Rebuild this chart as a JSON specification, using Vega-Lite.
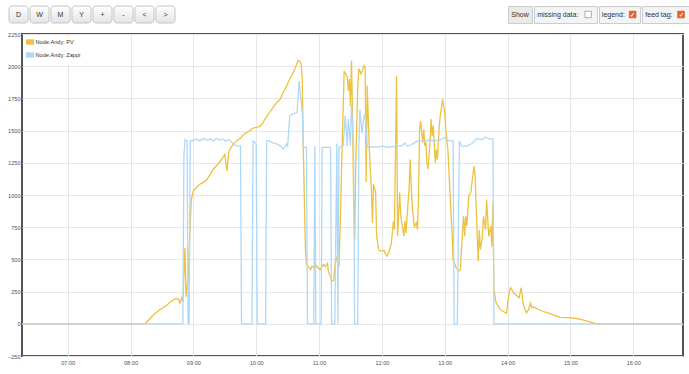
{
  "$schema": "https://vega.github.io/schema/vega-lite/v6.json",
  "padding": {"left": 6, "top": 5, "right": 0, "bottom": 0},
  "background": "white",
  "config": {
    "font": "Liberation Sans"
  },
  "columns": 1,
  "align": "none",
  "spacing": 7,
  "resolve": {"scale": {"color": "independent"}, "legend": {"color": "independent"}},
  "concat": [
    {
      "spacing": 331,
      "hconcat": [
        {
          "width": 166, "height": 17,
          "view": {"stroke": null},
          "data": {"values": [{"b": "D"}, {"b": "W"}, {"b": "M"}, {"b": "Y"}, {"b": "+"}, {"b": "-"}, {"b": "<"}, {"b": ">"}]},
          "encoding": {"x": {"field": "b", "type": "nominal", "sort": null, "axis": null, "scale": {"paddingInner": 0.09, "paddingOuter": 0}}},
          "layer": [
            {"mark": {"type": "rect", "cornerRadius": 3, "stroke": "#c4c4c4", "strokeWidth": 1,
              "fill": {"gradient": "linear", "x1": 0, "y1": 0, "x2": 0, "y2": 1, "stops": [{"offset": 0, "color": "#ffffff"}, {"offset": 1, "color": "#e4e4e4"}]}}},
            {"mark": {"type": "text", "fontSize": 7, "color": "#333333"}, "encoding": {"text": {"field": "b"}}}
          ]
        },
        {
          "spacing": 0,
          "hconcat": [
            {
              "width": 24, "height": 17,
              "view": {"fill": "#eaeaea", "stroke": "#cccccc"},
              "data": {"values": [{"label": "Show"}]},
              "mark": {"type": "text", "fontSize": 7, "color": "#333333"},
              "encoding": {"text": {"field": "label"}}
            },
            {
              "width": 63, "height": 17,
              "view": {"fill": "#f4f4f4", "stroke": "#cccccc"},
              "data": {"values": [{"label": "missing data:", "checked": "no"}]},
              "layer": [
                {"mark": {"type": "text", "fontSize": 7, "color": "#333333", "align": "left"},
                 "encoding": {"text": {"field": "label"}, "x": {"datum": 0.05, "type": "quantitative", "scale": {"domain": [0, 1], "nice": false, "zero": false}, "axis": null}}},
                {"mark": {"type": "square", "size": 42, "filled": true, "fill": "#ffffff", "stroke": "#999999", "strokeWidth": 0.8, "opacity": 1},
                 "encoding": {"x": {"datum": 0.86, "type": "quantitative"}}}
              ]
            },
            {
              "width": 41, "height": 17,
              "view": {"fill": "#f4f4f4", "stroke": "#cccccc"},
              "data": {"values": [{"label": "legend:", "checked": "yes"}]},
              "layer": [
                {"mark": {"type": "text", "fontSize": 7, "color": "#333333", "align": "left"},
                 "encoding": {"text": {"field": "label"}, "x": {"datum": 0.07, "type": "quantitative", "scale": {"domain": [0, 1], "nice": false, "zero": false}, "axis": null}}},
                {"mark": {"type": "square", "size": 45, "filled": true, "fill": "#e8622c", "stroke": "#c94f1f", "strokeWidth": 0.6, "opacity": 1},
                 "encoding": {"x": {"datum": 0.82, "type": "quantitative"}}},
                {"mark": {"type": "text", "text": "✓", "fontSize": 6, "fontWeight": "bold", "color": "#ffffff"},
                 "encoding": {"x": {"datum": 0.82, "type": "quantitative"}}}
              ]
            },
            {
              "width": 47, "height": 17,
              "view": {"fill": "#f4f4f4", "stroke": "#cccccc"},
              "data": {"values": [{"label": "feed tag:", "checked": "yes"}]},
              "layer": [
                {"mark": {"type": "text", "fontSize": 7, "color": "#333333", "align": "left"},
                 "encoding": {"text": {"field": "label"}, "x": {"datum": 0.07, "type": "quantitative", "scale": {"domain": [0, 1], "nice": false, "zero": false}, "axis": null}}},
                {"mark": {"type": "square", "size": 45, "filled": true, "fill": "#e8622c", "stroke": "#c94f1f", "strokeWidth": 0.6, "opacity": 1},
                 "encoding": {"x": {"datum": 0.83, "type": "quantitative"}}},
                {"mark": {"type": "text", "text": "✓", "fontSize": 6, "fontWeight": "bold", "color": "#ffffff"},
                 "encoding": {"x": {"datum": 0.83, "type": "quantitative"}}}
              ]
            }
          ]
        }
      ]
    },
    {
      "spacing": 1,
      "resolve": {"scale": {"color": "independent"}, "legend": {"color": "independent"}},
      "hconcat": [
        {
          "width": 1, "height": 322,
          "view": {"stroke": null},
          "data": {"values": [{"v": -250}, {"v": 2250}]},
          "mark": {"type": "point", "opacity": 0},
          "encoding": {"y": {"field": "v", "type": "quantitative", "scale": {"domain": [-250, 2250], "nice": false, "zero": false},
            "axis": {"orient": "right", "title": null, "format": "d", "values": [-250, 0, 250, 500, 750, 1000, 1250, 1500, 1750, 2000, 2250], "grid": false, "domain": false, "ticks": false, "tickSize": 0, "labelAlign": "right", "labelPadding": 10, "labelFontSize": 5.6, "labelColor": "#545454", "labelFlush": false}}}
        },
    {
      "width": 661, "height": 322,
      "view": {"stroke": "#545454", "strokeWidth": 2},
      "encoding": {
        "x": {"field": "t", "type": "temporal",
          "scale": {"domain": [{"year": 1900, "month": 1, "date": 1, "hours": 6, "minutes": 16, "seconds": 24}, {"year": 1900, "month": 1, "date": 1, "hours": 16, "minutes": 47, "seconds": 30}]},
          "axis": {"title": null, "format": "%H:%M", "grid": true, "gridColor": "#e6e6e6", "domain": false, "ticks": false, "labelFontSize": 5.6, "labelColor": "#545454", "labelPadding": 4, "labelFlush": false,
            "values": [
              {"year": 1900, "month": 1, "date": 1, "hours": 7},
              {"year": 1900, "month": 1, "date": 1, "hours": 8},
              {"year": 1900, "month": 1, "date": 1, "hours": 9},
              {"year": 1900, "month": 1, "date": 1, "hours": 10},
              {"year": 1900, "month": 1, "date": 1, "hours": 11},
              {"year": 1900, "month": 1, "date": 1, "hours": 12},
              {"year": 1900, "month": 1, "date": 1, "hours": 13},
              {"year": 1900, "month": 1, "date": 1, "hours": 14},
              {"year": 1900, "month": 1, "date": 1, "hours": 15},
              {"year": 1900, "month": 1, "date": 1, "hours": 16}
            ]}},
        "y": {"field": "v", "type": "quantitative",
          "scale": {"domain": [-250, 2250], "nice": false, "zero": false},
          "axis": {"title": null, "labels": false, "values": [-250, 0, 250, 500, 750, 1000, 1250, 1500, 1750, 2000, 2250], "grid": true, "gridColor": "#e6e6e6", "domain": false, "ticks": false, "tickSize": 0}}
      },
      "layer": [
        {
          "data": {"format": {"parse": {"t": "date:'%H:%M'"}}, "values": [
            {"t": "06:16", "v": 0}, {"t": "08:14", "v": 0}, {"t": "08:18", "v": 35}, {"t": "08:22", "v": 70}, {"t": "08:25", "v": 90}, {"t": "08:28", "v": 110}, {"t": "08:31", "v": 125}, {"t": "08:35", "v": 148}, {"t": "08:39", "v": 175}, {"t": "08:43", "v": 195}, {"t": "08:46", "v": 190}, {"t": "08:47", "v": 160}, {"t": "08:49", "v": 200}, {"t": "08:50", "v": 170}, {"t": "08:52", "v": 590}, {"t": "08:53", "v": 210}, {"t": "08:55", "v": 370}, {"t": "08:58", "v": 965},
            {"t": "09:00", "v": 1030}, {"t": "09:03", "v": 1060}, {"t": "09:06", "v": 1083}, {"t": "09:10", "v": 1100}, {"t": "09:13", "v": 1120}, {"t": "09:16", "v": 1160}, {"t": "09:19", "v": 1200}, {"t": "09:23", "v": 1235}, {"t": "09:26", "v": 1264}, {"t": "09:30", "v": 1316}, {"t": "09:32", "v": 1186}, {"t": "09:34", "v": 1342}, {"t": "09:38", "v": 1395}, {"t": "09:41", "v": 1420}, {"t": "09:45", "v": 1440}, {"t": "09:48", "v": 1470}, {"t": "09:51", "v": 1485}, {"t": "09:54", "v": 1500}, {"t": "09:57", "v": 1520},
            {"t": "10:00", "v": 1525}, {"t": "10:04", "v": 1535}, {"t": "10:07", "v": 1570}, {"t": "10:10", "v": 1610}, {"t": "10:14", "v": 1655}, {"t": "10:17", "v": 1690}, {"t": "10:20", "v": 1720}, {"t": "10:23", "v": 1745}, {"t": "10:26", "v": 1800}, {"t": "10:29", "v": 1845}, {"t": "10:32", "v": 1900}, {"t": "10:34", "v": 1930}, {"t": "10:37", "v": 1980}, {"t": "10:40", "v": 2045}, {"t": "10:42", "v": 2035}, {"t": "10:43", "v": 2010}, {"t": "10:44", "v": 1900}, {"t": "10:45", "v": 1355}, {"t": "10:47", "v": 575}, {"t": "10:48", "v": 460}, {"t": "10:50", "v": 440}, {"t": "10:52", "v": 420}, {"t": "10:53", "v": 445}, {"t": "10:55", "v": 435}, {"t": "10:56", "v": 470}, {"t": "10:58", "v": 445},
            {"t": "11:01", "v": 420}, {"t": "11:04", "v": 460}, {"t": "11:06", "v": 445}, {"t": "11:08", "v": 470}, {"t": "11:09", "v": 405}, {"t": "11:11", "v": 365}, {"t": "11:12", "v": 330}, {"t": "11:14", "v": 340}, {"t": "11:16", "v": 525}, {"t": "11:19", "v": 445}, {"t": "11:20", "v": 706}, {"t": "11:22", "v": 1355}, {"t": "11:24", "v": 1965}, {"t": "11:27", "v": 1913}, {"t": "11:28", "v": 1809}, {"t": "11:29", "v": 1900}, {"t": "11:30", "v": 1692}, {"t": "11:31", "v": 2045}, {"t": "11:32", "v": 1614}, {"t": "11:33", "v": 965}, {"t": "11:34", "v": 655}, {"t": "11:35", "v": 1225}, {"t": "11:37", "v": 1845}, {"t": "11:38", "v": 1980}, {"t": "11:40", "v": 1940}, {"t": "11:42", "v": 1980}, {"t": "11:43", "v": 2005}, {"t": "11:44", "v": 1990}, {"t": "11:45", "v": 1100}, {"t": "11:46", "v": 1850}, {"t": "11:48", "v": 1355}, {"t": "11:50", "v": 1044}, {"t": "11:51", "v": 785}, {"t": "11:52", "v": 1083}, {"t": "11:54", "v": 1020}, {"t": "11:55", "v": 680}, {"t": "11:57", "v": 575}, {"t": "11:59", "v": 565},
            {"t": "12:02", "v": 570}, {"t": "12:03", "v": 550}, {"t": "12:05", "v": 525}, {"t": "12:07", "v": 565}, {"t": "12:09", "v": 625}, {"t": "12:11", "v": 795}, {"t": "12:12", "v": 730}, {"t": "12:14", "v": 1925}, {"t": "12:15", "v": 680}, {"t": "12:17", "v": 1020}, {"t": "12:18", "v": 840}, {"t": "12:19", "v": 785}, {"t": "12:21", "v": 680}, {"t": "12:22", "v": 800}, {"t": "12:23", "v": 705}, {"t": "12:25", "v": 945}, {"t": "12:26", "v": 1050}, {"t": "12:27", "v": 1275}, {"t": "12:28", "v": 1065}, {"t": "12:29", "v": 910}, {"t": "12:31", "v": 755}, {"t": "12:33", "v": 785}, {"t": "12:34", "v": 730}, {"t": "12:35", "v": 990}, {"t": "12:36", "v": 1510}, {"t": "12:37", "v": 1575}, {"t": "12:39", "v": 1407}, {"t": "12:40", "v": 1510}, {"t": "12:41", "v": 1380}, {"t": "12:42", "v": 1410}, {"t": "12:43", "v": 1251}, {"t": "12:44", "v": 1200}, {"t": "12:46", "v": 1410}, {"t": "12:47", "v": 1590}, {"t": "12:48", "v": 1459}, {"t": "12:49", "v": 1540}, {"t": "12:51", "v": 1250}, {"t": "12:52", "v": 1355}, {"t": "12:53", "v": 1275}, {"t": "12:55", "v": 1560}, {"t": "12:56", "v": 1630}, {"t": "12:58", "v": 1745},
            {"t": "13:00", "v": 1640}, {"t": "13:01", "v": 1510}, {"t": "13:03", "v": 1355}, {"t": "13:05", "v": 1020}, {"t": "13:07", "v": 705}, {"t": "13:08", "v": 495}, {"t": "13:11", "v": 435}, {"t": "13:13", "v": 410}, {"t": "13:15", "v": 420}, {"t": "13:16", "v": 575}, {"t": "13:18", "v": 835}, {"t": "13:19", "v": 680}, {"t": "13:20", "v": 835}, {"t": "13:21", "v": 760}, {"t": "13:23", "v": 990}, {"t": "13:25", "v": 1020}, {"t": "13:26", "v": 1095}, {"t": "13:28", "v": 1225}, {"t": "13:29", "v": 1150}, {"t": "13:30", "v": 915}, {"t": "13:32", "v": 485}, {"t": "13:33", "v": 730}, {"t": "13:34", "v": 575}, {"t": "13:36", "v": 680}, {"t": "13:37", "v": 835}, {"t": "13:39", "v": 730}, {"t": "13:40", "v": 965}, {"t": "13:42", "v": 680}, {"t": "13:44", "v": 760}, {"t": "13:45", "v": 600}, {"t": "13:46", "v": 940}, {"t": "13:47", "v": 265}, {"t": "13:49", "v": 165}, {"t": "13:53", "v": 110}, {"t": "13:56", "v": 95}, {"t": "13:59", "v": 80},
            {"t": "14:00", "v": 160}, {"t": "14:02", "v": 260}, {"t": "14:03", "v": 280}, {"t": "14:06", "v": 239}, {"t": "14:08", "v": 225}, {"t": "14:11", "v": 200}, {"t": "14:13", "v": 280}, {"t": "14:15", "v": 150}, {"t": "14:18", "v": 85}, {"t": "14:20", "v": 110}, {"t": "14:22", "v": 160}, {"t": "14:23", "v": 125}, {"t": "14:25", "v": 130}, {"t": "14:31", "v": 105}, {"t": "14:38", "v": 85}, {"t": "14:44", "v": 70}, {"t": "14:50", "v": 50}, {"t": "14:57", "v": 48},
            {"t": "15:03", "v": 45}, {"t": "15:10", "v": 35}, {"t": "15:16", "v": 20}, {"t": "15:22", "v": 8}, {"t": "15:25", "v": 0}, {"t": "16:47", "v": 0}
          ]},
          "mark": {"type": "line", "strokeWidth": 1.3, "clip": true},
          "encoding": {"color": {"datum": "Node:Andy: PV", "type": "nominal",
            "scale": {"domain": ["Node:Andy: PV", "Node:Andy: Zappi"], "range": ["#edc240", "#afd8f8"]},
            "legend": {"title": null, "orient": "top-left", "offset": 3, "padding": 1, "fillColor": "rgba(255,255,255,0.85)", "symbolType": "M-1,-0.33H1V0.33H-1Z", "symbolSize": 16, "symbolStrokeWidth": 4, "symbolOpacity": 1, "labelFontSize": 5.6, "labelColor": "#333333", "rowPadding": -6, "labelOffset": 1.5}}}
        },
        {
          "data": {"format": {"parse": {"t": "date:'%H:%M'"}}, "values": [
            {"t": "06:16", "v": 0}, {"t": "08:50", "v": 0}, {"t": "08:51", "v": 1300}, {"t": "08:52", "v": 1430}, {"t": "08:54", "v": 1420}, {"t": "08:55", "v": 0}, {"t": "08:56", "v": 0}, {"t": "08:57", "v": 1420},
            {"t": "09:00", "v": 1425}, {"t": "09:03", "v": 1435}, {"t": "09:06", "v": 1420}, {"t": "09:10", "v": 1440}, {"t": "09:13", "v": 1425}, {"t": "09:16", "v": 1435}, {"t": "09:19", "v": 1420}, {"t": "09:22", "v": 1440}, {"t": "09:25", "v": 1425}, {"t": "09:28", "v": 1435}, {"t": "09:31", "v": 1420}, {"t": "09:34", "v": 1430}, {"t": "09:37", "v": 1405}, {"t": "09:40", "v": 1385}, {"t": "09:43", "v": 1380}, {"t": "09:45", "v": 1380}, {"t": "09:46", "v": 0}, {"t": "09:56", "v": 0}, {"t": "09:57", "v": 1420},
            {"t": "10:00", "v": 1400}, {"t": "10:01", "v": 0}, {"t": "10:09", "v": 0}, {"t": "10:10", "v": 1420}, {"t": "10:13", "v": 1420}, {"t": "10:16", "v": 1405}, {"t": "10:20", "v": 1395}, {"t": "10:23", "v": 1380}, {"t": "10:26", "v": 1355}, {"t": "10:29", "v": 1395}, {"t": "10:30", "v": 1380}, {"t": "10:32", "v": 1615}, {"t": "10:35", "v": 1630}, {"t": "10:39", "v": 1640}, {"t": "10:41", "v": 1885}, {"t": "10:44", "v": 1640}, {"t": "10:45", "v": 1370}, {"t": "10:48", "v": 1370}, {"t": "10:49", "v": 0}, {"t": "10:55", "v": 0}, {"t": "10:56", "v": 1380}, {"t": "10:57", "v": 0},
            {"t": "11:02", "v": 0}, {"t": "11:03", "v": 1370}, {"t": "11:11", "v": 1370}, {"t": "11:12", "v": 0}, {"t": "11:15", "v": 0}, {"t": "11:17", "v": 1400}, {"t": "11:18", "v": 0}, {"t": "11:19", "v": 1370}, {"t": "11:23", "v": 1380}, {"t": "11:25", "v": 1615}, {"t": "11:27", "v": 1380}, {"t": "11:28", "v": 1590}, {"t": "11:30", "v": 1380}, {"t": "11:31", "v": 1700}, {"t": "11:33", "v": 1380}, {"t": "11:34", "v": 0}, {"t": "11:37", "v": 0}, {"t": "11:38", "v": 1380}, {"t": "11:39", "v": 1665}, {"t": "11:41", "v": 1480}, {"t": "11:43", "v": 1615}, {"t": "11:44", "v": 1630}, {"t": "11:46", "v": 1370}, {"t": "11:50", "v": 1375}, {"t": "11:55", "v": 1370},
            {"t": "12:00", "v": 1380}, {"t": "12:05", "v": 1370}, {"t": "12:10", "v": 1375}, {"t": "12:15", "v": 1380}, {"t": "12:20", "v": 1385}, {"t": "12:22", "v": 1405}, {"t": "12:24", "v": 1380}, {"t": "12:28", "v": 1390}, {"t": "12:32", "v": 1410}, {"t": "12:35", "v": 1420}, {"t": "12:40", "v": 1420}, {"t": "12:45", "v": 1425}, {"t": "12:50", "v": 1420}, {"t": "12:55", "v": 1425}, {"t": "12:58", "v": 1440},
            {"t": "13:00", "v": 1445}, {"t": "13:03", "v": 1425}, {"t": "13:06", "v": 1420}, {"t": "13:08", "v": 1420}, {"t": "13:09", "v": 0}, {"t": "13:12", "v": 0}, {"t": "13:14", "v": 1420}, {"t": "13:16", "v": 1380}, {"t": "13:21", "v": 1380}, {"t": "13:26", "v": 1400}, {"t": "13:31", "v": 1440}, {"t": "13:34", "v": 1430}, {"t": "13:37", "v": 1435}, {"t": "13:39", "v": 1450}, {"t": "13:42", "v": 1435}, {"t": "13:46", "v": 1435}, {"t": "13:47", "v": 0}, {"t": "16:47", "v": 0}
          ]},
          "mark": {"type": "line", "strokeWidth": 1.3, "clip": true},
          "encoding": {"color": {"datum": "Node:Andy: Zappi", "type": "nominal"}}
        }
      ]
    }
      ]
    }
  ]
}
